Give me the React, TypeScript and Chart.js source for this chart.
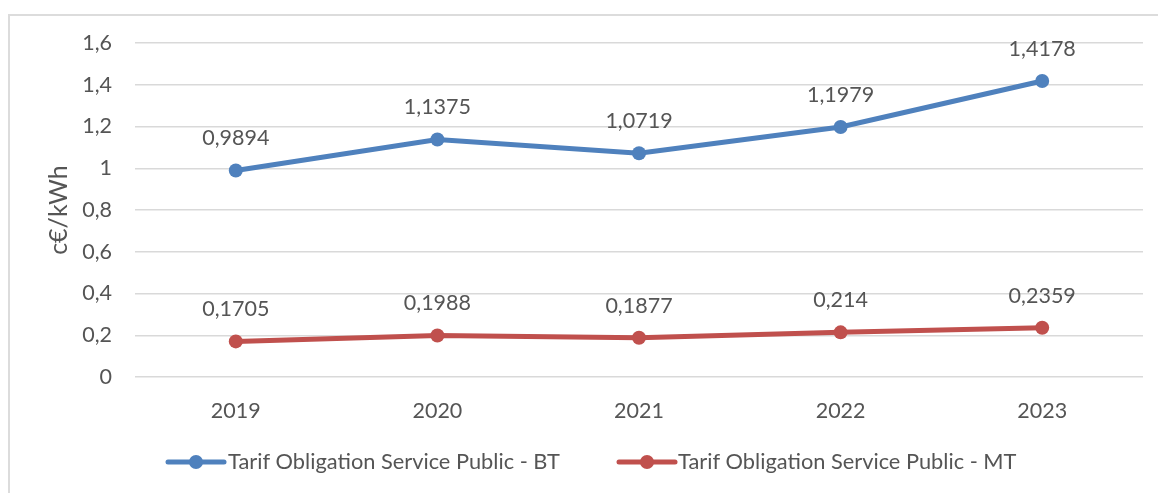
import React, { useEffect, useRef } from "react";
import { Chart, registerables } from "chart.js";

Chart.register(...registerables);

const categories = ["2019", "2020", "2021", "2022", "2023"];
const btValues = [0.9894, 1.1375, 1.0719, 1.1979, 1.4178];
const mtValues = [0.1705, 0.1988, 0.1877, 0.214, 0.2359];
const seriesLabels = ["Tarif Obligation Service Public - BT", "Tarif Obligation Service Public - MT"];
const seriesColors = ["#4F81BD", "#C0504D"];
const yTitle = "c€/kWh";

const FONT = "Lato";
const TEXT = "#555555";

const fmt = (v: number) => String(v).replace(".", ",");

const dataLabelPlugin = {
  id: "dataLabels",
  afterDatasetsDraw(chart: any) {
    const ctx = chart.ctx;
    ctx.save();
    ctx.font = `21.5px ${FONT}`;
    ctx.fillStyle = TEXT;
    ctx.textAlign = "center";
    ctx.textBaseline = "middle";
    chart.data.datasets.forEach((ds: any, i: number) => {
      const meta = chart.getDatasetMeta(i);
      meta.data.forEach((pt: any, j: number) => {
        ctx.fillText(fmt(ds.data[j]), pt.x, pt.y - 32);
      });
    });
    ctx.restore();
  },
};

const legendPlugin = {
  id: "customLegend",
  afterDraw(chart: any) {
    const ctx = chart.ctx;
    const items = [
      { x0: 168, x1: 224, tx: 228 },
      { x0: 619, x1: 675, tx: 678 },
    ];
    const y = 462;
    ctx.save();
    chart.data.datasets.forEach((ds: any, i: number) => {
      const it = items[i];
      ctx.strokeStyle = ds.borderColor;
      ctx.lineWidth = 5;
      ctx.lineCap = "round";
      ctx.beginPath();
      ctx.moveTo(it.x0, y);
      ctx.lineTo(it.x1, y);
      ctx.stroke();
      ctx.fillStyle = ds.borderColor;
      ctx.beginPath();
      ctx.arc((it.x0 + it.x1) / 2, y, 7, 0, Math.PI * 2);
      ctx.fill();
      ctx.font = `21.8px ${FONT}`;
      ctx.fillStyle = TEXT;
      ctx.textAlign = "left";
      ctx.textBaseline = "middle";
      ctx.fillText(ds.label, it.tx, y);
    });
    ctx.restore();
  },
};

export default function App() {
  const ref = useRef<HTMLCanvasElement>(null);

  useEffect(() => {
    if (!ref.current) return;
    const chart = new Chart(ref.current, {
      type: "line",
      data: {
        labels: categories,
        datasets: [
          {
            label: seriesLabels[0],
            data: btValues,
            borderColor: seriesColors[0],
            backgroundColor: seriesColors[0],
            borderWidth: 5,
            pointRadius: 7,
            pointBorderWidth: 0,
            pointHoverRadius: 7,
            tension: 0,
          },
          {
            label: seriesLabels[1],
            data: mtValues,
            borderColor: seriesColors[1],
            backgroundColor: seriesColors[1],
            borderWidth: 5,
            pointRadius: 7,
            pointBorderWidth: 0,
            pointHoverRadius: 7,
            tension: 0,
          },
        ],
      },
      options: {
        responsive: false,
        animation: false,
        layout: { padding: { left: 0, top: 43, right: 15, bottom: 0 } },
        plugins: {
          legend: { display: false },
          tooltip: { enabled: false },
        },
        scales: {
          x: {
            offset: true,
            grid: { display: false, drawTicks: false },
            border: { display: false },
            ticks: {
              color: TEXT,
              font: { family: FONT, size: 21.5 },
              padding: 21,
              maxRotation: 0,
            },
            afterFit(scale: any) {
              scale.height = 116;
            },
          },
          y: {
            min: 0,
            max: 1.6,
            grid: { color: "#D9D9D9", lineWidth: 1.5, drawTicks: false },
            border: { display: false },
            ticks: {
              stepSize: 0.2,
              color: TEXT,
              font: { family: FONT, size: 21.5 },
              padding: 23,
              callback: (v: any) => fmt(Math.round(Number(v) * 10) / 10),
            },
            title: {
              display: true,
              text: yTitle,
              color: TEXT,
              font: { family: FONT, size: 25 },
              padding: { top: 44, bottom: 0 },
            },
            afterFit(scale: any) {
              scale.width = 135;
            },
          },
        },
      },
      plugins: [dataLabelPlugin, legendPlugin],
    });
    return () => chart.destroy();
  }, []);

  return (
    <div>
      <div
        style={{
          position: "absolute",
          left: 8,
          top: 14,
          width: 1150,
          height: 479,
          borderLeft: "2px solid #DCDCDC",
          borderTop: "2px solid #DCDCDC",
          boxSizing: "border-box",
        }}
      />
      <canvas
        ref={ref}
        width={1158}
        height={493}
        style={{ position: "absolute", left: 0, top: 0, width: 1158, height: 493 }}
      />
    </div>
  );
}
